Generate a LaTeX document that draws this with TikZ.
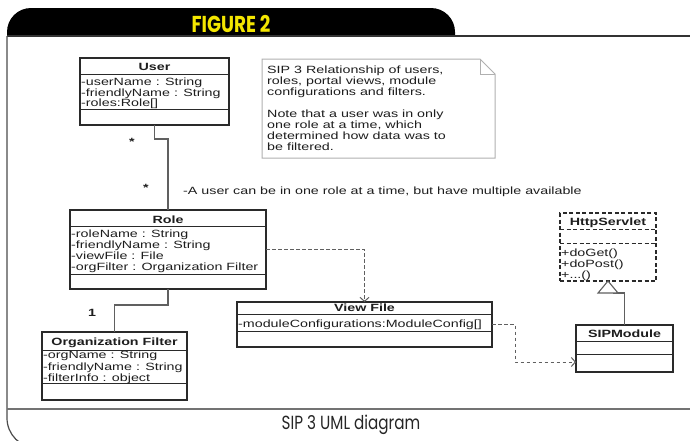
\documentclass[tikz,border=0pt]{standalone}
\usepackage{fontspec}
\usetikzlibrary{calc,arrows.meta}
\newfontfamily\umlfont[FakeStretch=1.36]{Liberation Sans}
\newfontfamily\capfont[FakeStretch=0.8]{Poppins}
\definecolor{figyellow}{HTML}{F4E600}
\definecolor{boxline}{HTML}{2A2A2A}
\definecolor{txt}{HTML}{1E1E1E}
\definecolor{conn}{HTML}{606060}
\definecolor{notegray}{HTML}{B0B0B0}
\begin{document}
\begin{tikzpicture}[x=1pt,y=-1pt,
  classbox/.style={draw=boxline, line width=1.3pt, fill=white, inner sep=0pt, outer sep=0pt},
  dashbox/.style={classbox, dash pattern=on 4pt off 2.5pt},
  sepline/.style={draw=boxline, line width=1pt},
  dashsep/.style={sepline, dash pattern=on 4pt off 2.5pt},
  ttl/.style={font=\umlfont\fontsize{10.5}{11}\selectfont\bfseries, inner sep=0pt, anchor=base, text=txt},
  attr/.style={font=\umlfont\fontsize{10.5}{11}\selectfont, inner sep=0pt, anchor=base west, text=txt},
  notetext/.style={font=\umlfont\fontsize{10.5}{11}\selectfont, inner sep=0pt, anchor=north west, align=left, text=txt},
  assoc/.style={draw=conn, line width=1.1pt},
  dep/.style={draw=conn, line width=1pt, dash pattern=on 3.5pt off 2.5pt, -{Straight Barb[length=4pt,width=9pt]}},
  mult/.style={font=\umlfont\fontsize{10.5}{11}\selectfont\bfseries, inner sep=0pt, text=txt}]
\useasboundingbox (0,0) rectangle (690,440);
\fill[white] (0,0) rectangle (690,440);
% frame
\fill[black, rounded corners=24pt] (7,36) -- (7,8) -- (455,8) -- (455,36);
\node[font=\capfont\bfseries\fontsize{23}{23}\selectfont, text=figyellow, inner sep=0pt] (fig) at (231,23.5) {FIGURE 2};
\draw[draw=black!80, line width=1.6pt] (7,36) -- (690,36);
\draw[draw=black!70, line width=1.2pt, rounded corners=30pt] (7,36) -- (7,448) -- (120,448);
\draw[draw=black!55, line width=1.6pt] (7,409) -- (690,409);
\node[font=\capfont\fontsize{19}{19}\selectfont, text=black!85, inner sep=0pt] (cap) at (351,425) {SIP 3 UML diagram};
% note
\draw[draw=notegray, line width=1pt, fill=white] (262,59) -- (480,59) -- (495,74) -- (495,158) -- (262,158) -- cycle;
\draw[draw=notegray, line width=1pt] (480,59) -- (480,74) -- (495,74);
\node[notetext] (notetxt) at (267,66) {SIP 3 Relationship of users,\\roles, portal views, module\\configurations and filters.\\[11pt]Note that a user was in only\\one role at a time, which\\determined how data was to\\be filtered.};
% User
\node[classbox, minimum width=149pt, minimum height=67pt] (user) at (154.5,91.5) {};
\draw[sepline] ($(user.north west)+(0,16)$) -- ($(user.north east)+(0,16)$);
\draw[sepline] ($(user.north west)+(0,51)$) -- ($(user.north east)+(0,51)$);
\node[ttl] (userT) at (154.5,70) {User};
\node[attr] (userA1) at (81,85) {-userName : String};
\node[attr] (userA2) at (81,96) {-friendlyName : String};
\node[attr] (userA3) at (81,106.5) {-roles:Role[]};
% Role
\node[classbox, minimum width=196pt, minimum height=79pt] (role) at (168,249.5) {};
\draw[sepline] ($(role.north west)+(0,16)$) -- ($(role.north east)+(0,16)$);
\draw[sepline] ($(role.north west)+(0,64)$) -- ($(role.north east)+(0,64)$);
\node[ttl] (roleT) at (168,223) {Role};
\node[attr] (roleA1) at (71,237) {-roleName : String};
\node[attr] (roleA2) at (71,248) {-friendlyName : String};
\node[attr] (roleA3) at (71,259) {-viewFile : File};
\node[attr] (roleA4) at (71,270.5) {-orgFilter : Organization Filter};
% Organization Filter
\node[classbox, minimum width=145pt, minimum height=68pt] (org) at (114.5,366) {};
\draw[sepline] ($(org.north west)+(0,18)$) -- ($(org.north east)+(0,18)$);
\draw[sepline] ($(org.north west)+(0,51)$) -- ($(org.north east)+(0,51)$);
\node[ttl] (orgT) at (114.5,345) {Organization Filter};
\node[attr] (orgA1) at (43,358.5) {-orgName : String};
\node[attr] (orgA2) at (43,370) {-friendlyName : String};
\node[attr] (orgA3) at (43,381) {-filterInfo : object};
% View File
\node[classbox, minimum width=255pt, minimum height=45pt] (view) at (364.5,324.5) {};
\draw[sepline] ($(view.north west)+(0,12)$) -- ($(view.north east)+(0,12)$);
\draw[sepline] ($(view.north west)+(0,29)$) -- ($(view.north east)+(0,29)$);
\node[ttl] (viewT) at (364.5,311.5) {View File};
\node[attr] (viewA1) at (238,327.5) {-moduleConfigurations:ModuleConfig[]};
% HttpServlet
\node[dashbox, minimum width=96pt, minimum height=68pt] (http) at (608,247) {};
\draw[dashsep] ($(http.north west)+(0,16)$) -- ($(http.north east)+(0,16)$);
\draw[dashsep] ($(http.north west)+(0,30)$) -- ($(http.north east)+(0,30)$);
\node[ttl] (httpT) at (608,225) {HttpServlet};
\node[attr] (httpM1) at (561,256) {+doGet()};
\node[attr] (httpM2) at (561,267) {+doPost()};
\node[attr] (httpM3) at (561,278) {+...()};
% SIPModule
\node[classbox, minimum width=97pt, minimum height=47pt] (sip) at (624.5,348.5) {};
\draw[sepline] ($(sip.north west)+(0,16)$) -- ($(sip.north east)+(0,16)$);
\draw[sepline] ($(sip.north west)+(0,29)$) -- ($(sip.north east)+(0,29)$);
\node[ttl] (sipT) at (624.5,337) {SIPModule};
% connectors
\draw[assoc] (user.south) -- ++(0,14) -| (role.north);
\draw[assoc] (role.south) -- ++(0,16) -| (org.north);
\node[mult] (m1) at (132,142) {*};
\node[mult] (m2) at (146,188) {*};
\node[mult] (m3) at (92,313) {1};
\node[attr] (note2) at (183,194) {-A user can be in one role at a time, but have multiple available};
\draw[dep] (role.east) -| (view.north);
\coordinate (sipin) at ($(sip.west)+(0,13.5)$);
\draw[dep] (view.east) -- ++(23,0) |- (sipin);
\draw[assoc] (sip.north) |- ($(http.south)+(5,12)$);
\draw[draw=conn, line width=1.1pt, fill=white] (http.south) -- ++(-10,12) -- ++(20,0) -- cycle;
\end{tikzpicture}
\end{document}
